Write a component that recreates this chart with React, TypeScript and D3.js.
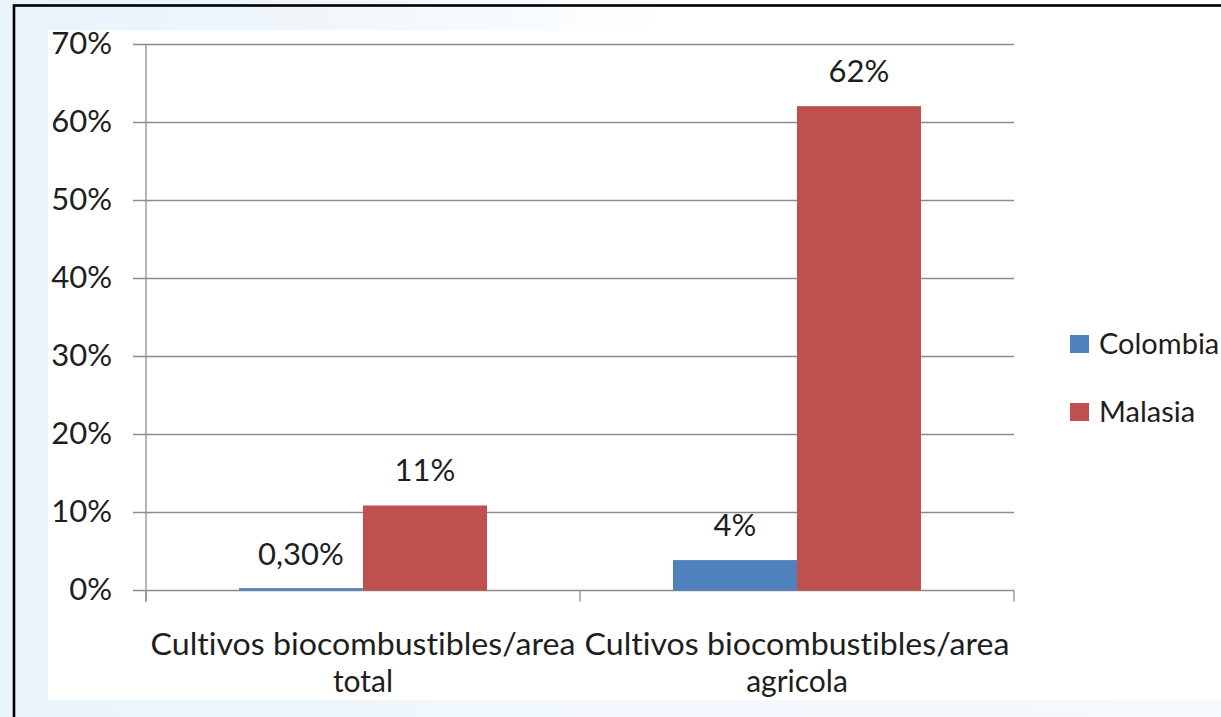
import React from "react";
import * as d3 from "d3";

const categories = ["Cultivos biocombustibles/area total", "Cultivos biocombustibles/area agricola"];
const categoryLines = [
  ["Cultivos biocombustibles/area", "total"],
  ["Cultivos biocombustibles/area", "agricola"],
];
const seriesNames = ["Colombia", "Malasia"];
const colombia = [0.003, 0.039];
const malasia = [0.109, 0.621];
const colombiaLabels = ["0,30%", "4%"];
const malasiaLabels = ["11%", "62%"];
const yTicks = [0, 0.1, 0.2, 0.3, 0.4, 0.5, 0.6, 0.7];
const colors = ["#4F81BD", "#C0504D"];

const FONT = "Lato, 'Open Sans', sans-serif";
const TXT = "#1e1e1e";

export default function App() {
  const W = 1221, H = 717;
  const left = 146, right = 1014, top = 44.5, bottom = 590.5;
  const x0 = d3.scaleBand<string>().domain(categories).range([left, right]).paddingInner(0).paddingOuter(0);
  const x1 = d3.scaleBand<string>().domain(seriesNames).range([0, x0.bandwidth()]).paddingInner(0).paddingOuter(0.75);
  const y = d3.scaleLinear().domain([0, 0.7]).range([bottom, top]);
  const values = [colombia, malasia];
  const labels = [colombiaLabels, malasiaLabels];
  const fmt = d3.format(".0%");

  return (
    <svg
      width={W}
      height={H}
      style={{ position: "absolute", left: 0, top: 0, fontVariantLigatures: "none", fontFeatureSettings: "'liga' 0, 'clig' 0" }}
      fontFamily={FONT}
    >
      <defs>
        <linearGradient id="bgTop" x1="0" x2="1" y1="0" y2="0">
          <stop offset="0" stopColor="#e8f3fb" />
          <stop offset="0.25" stopColor="#eef6fc" />
          <stop offset="0.55" stopColor="#ffffff" />
          <stop offset="1" stopColor="#ffffff" />
        </linearGradient>
        <linearGradient id="bgBot" x1="0" x2="1" y1="0" y2="0">
          <stop offset="0" stopColor="#e9f4fb" />
          <stop offset="0.5" stopColor="#f2f8fd" />
          <stop offset="1" stopColor="#f4f9fd" />
        </linearGradient>
      </defs>
      <rect x={0} y={0} width={W} height={H} fill="#ffffff" />
      <rect x={0} y={0} width={W} height={30} fill="url(#bgTop)" />
      <rect x={0} y={0} width={48} height={H} fill="#eaf4fb" />
      <rect x={0} y={700} width={W} height={17} fill="url(#bgBot)" />
      <rect x={48} y={30} width={W - 48} height={670} fill="#ffffff" />
      {/* frame */}
      <rect x={14} y={5.5} width={W + 20} height={H + 20} fill="none" stroke="#000" strokeWidth={2.6} />

      {/* gridlines */}
      {yTicks.map((t) => (
        <g key={t}>
          <line x1={left - 13} x2={right} y1={y(t)} y2={y(t)} stroke="#8c8c8c" strokeWidth={1.3} />
          <text x={112} y={y(t) + 9.5} textAnchor="end" fontSize={31} fill={TXT}>
            {fmt(t)}
          </text>
        </g>
      ))}
      {/* y axis */}
      <line x1={left} x2={left} y1={top} y2={bottom + 11} stroke="#8c8c8c" strokeWidth={1.3} />
      {/* category ticks */}
      {[...categories.map((c) => x0(c)!), right].map((v, i) => (
        <line key={i} x1={v} x2={v} y1={bottom} y2={bottom + 11} stroke="#8c8c8c" strokeWidth={1.3} />
      ))}

      {/* bars */}
      {categories.map((c, ci) => (
        <g key={c}>
          {seriesNames.map((s, si) => {
            const v = values[si][ci];
            const bx = x0(c)! + x1(s)!;
            return (
              <rect key={s} x={bx} y={y(v)} width={x1.bandwidth()} height={bottom - y(v)} fill={colors[si]} />
            );
          })}
        </g>
      ))}
      {/* data labels */}
      {categories.map((c, ci) =>
        seriesNames.map((s, si) => {
          const v = values[si][ci];
          const cx = x0(c)! + x1(s)! + x1.bandwidth() / 2;
          const ly = si === 0 && ci === 0 ? 565 : y(v) - 24;
          return (
            <text key={c + s} x={cx} y={ly} textAnchor="middle" fontSize={31} fill={TXT}>
              {labels[si][ci]}
            </text>
          );
        })
      )}

      {/* category labels */}
      {categories.map((c, ci) => {
        const cx = x0(c)! + x0.bandwidth() / 2;
        return (
          <g key={c}>
            <text x={cx} y={655} textAnchor="middle" fontSize={30} fill={TXT} textLength={425} lengthAdjust="spacingAndGlyphs">
              {categoryLines[ci][0]}
            </text>
            <text x={cx} y={692} textAnchor="middle" fontSize={30} fill={TXT}>
              {categoryLines[ci][1]}
            </text>
          </g>
        );
      })}

      {/* legend */}
      {seriesNames.map((s, si) => (
        <g key={s} transform={`translate(1070, ${335 + si * 68})`}>
          <rect x={0} y={0} width={19} height={18} fill={colors[si]} />
          <text x={29} y={19} fontSize={29} fill={TXT}>
            {s}
          </text>
        </g>
      ))}
    </svg>
  );
}
